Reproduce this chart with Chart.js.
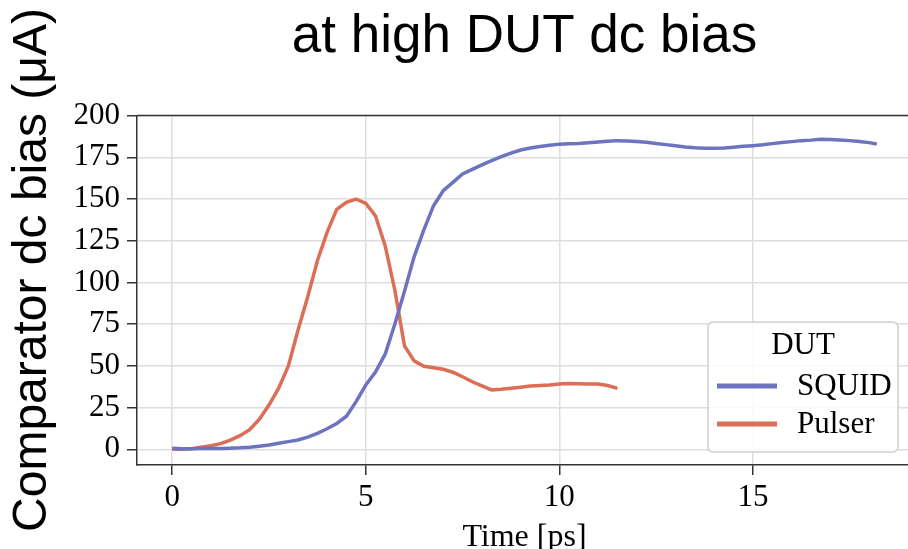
<!DOCTYPE html>
<html>
<head>
<meta charset="utf-8">
<script src="https://cdn.jsdelivr.net/npm/chart.js@4/dist/chart.umd.min.js"></script>
<style>
  html, body { margin: 0; padding: 0; background: #fff; }
  #wrap { width: 908px; height: 549px; overflow: hidden; position: relative; }
  #testchart { display: block; }
</style>
</head>
<body>
<div id="wrap"><canvas id="testchart" width="912" height="560" style="width:912px;height:560px"></canvas></div>
<script>
// values, time in ps, bias in uA
const squidTime = [0, 0.25, 0.5, 0.75, 1, 1.25, 1.5, 1.75, 2, 2.25, 2.5, 2.75, 3, 3.25, 3.5, 3.75,
    4, 4.25, 4.5, 4.75, 5, 5.25, 5.5, 5.75, 6, 6.25, 6.5, 6.75, 7, 7.25, 7.5, 7.75,
    8, 8.25, 8.5, 8.75, 9, 9.25, 9.5, 9.75, 10, 10.25, 10.5, 10.75, 11, 11.25, 11.5, 11.75,
    12, 12.25, 12.5, 12.75, 13, 13.25, 13.5, 13.75, 14, 14.25, 14.5, 14.75, 15, 15.25, 15.5, 15.75,
    16, 16.25, 16.5, 16.75, 17, 17.25, 17.5, 17.75, 18, 18.2];
const squid = [0.6, 0.4, 0.3, 0.5, 0.6, 0.5, 0.7, 0.9, 1.3, 1.9, 2.6, 3.6, 4.6, 5.6, 7.3, 9.6,
    12.3, 15.5, 19.8, 28.6, 38.5, 46.3, 57, 75, 94.7, 115.5, 131.5, 146, 155, 160, 165, 167.8,
    170.5, 173, 175.4, 177.5, 179.4, 180.6, 181.5, 182.2, 182.9, 183.1, 183.3, 183.7, 184.2, 184.6, 185, 184.8,
    184.5, 184, 183.3, 182.6, 181.9, 181.2, 180.7, 180.5, 180.4, 180.6, 181.1, 181.6, 182, 182.5, 183.2, 183.9,
    184.4, 185, 185.3, 185.8, 185.7, 185.4, 185, 184.5, 183.8, 183];

const pulserTime = [0, 0.25, 0.5, 0.75, 1, 1.25, 1.5, 1.75, 2, 2.25, 2.5, 2.75, 3, 3.25, 3.5, 3.75,
    4, 4.25, 4.5, 4.75, 5, 5.25, 5.5, 5.75, 6, 6.25, 6.5, 6.75, 7, 7.25, 7.5, 7.75,
    8, 8.25, 8.5, 8.75, 9, 9.25, 9.5, 9.75, 10, 10.25, 10.5, 10.75, 11, 11.25, 11.5];
const pulser = [0, 0.1, 0.4, 1.3, 2.2, 3.4, 5.5, 8.2, 11.8, 18, 26.5, 36.6, 50, 71.5, 91.5, 113,
    130, 143.8, 148, 150, 147.3, 140, 122, 95.5, 62, 53, 49.8, 48.9, 48, 46.2, 43.5, 40.5,
    38, 35.6, 36, 36.6, 37.2, 37.9, 38.3, 38.6, 39.2, 39.5, 39.3, 39.1, 39.1, 38.2, 36.5];

const xTicks = [0, 5, 10, 15];
const yTicks = [0, 25, 50, 75, 100, 125, 150, 175, 200];

const seriesNames = ['SQUID', 'Pulser'];
const seriesColors = ['#6c74bf', '#dc6e55'];

const serif = "'Liberation Serif', 'Times New Roman', serif";
const sans = "'Liberation Sans', Arial, sans-serif";

function toPoints(xs, ys) {
    return xs.map((x, i) => ({x: x, y: ys[i]}));
}

// y label, top spine and the boxed legend
const extras = {
    id: 'extras',
    beforeDatasetsDraw(chart) {
        const {ctx, chartArea} = chart;
        ctx.save();
        ctx.strokeStyle = '#333';
        ctx.lineWidth = 1.5;
        ctx.beginPath();
        ctx.moveTo(chartArea.left, chartArea.top);
        ctx.lineTo(chartArea.right, chartArea.top);
        ctx.stroke();
        ctx.restore();
    },
    afterDatasetsDraw(chart) {
        const {ctx, chartArea} = chart;
        const w = 190, h = 130;
        const x = chartArea.right - 14 - w, y = chartArea.bottom - 13 - h;
        ctx.save();
        ctx.fillStyle = 'rgba(255,255,255,0.85)';
        ctx.strokeStyle = '#d0d0d0';
        ctx.lineWidth = 1.5;
        ctx.beginPath();
        ctx.roundRect(x, y, w, h, 5);
        ctx.fill();
        ctx.stroke();
        ctx.fillStyle = '#000';
        ctx.font = '31px ' + serif;
        ctx.textBaseline = 'middle';
        ctx.textAlign = 'center';
        ctx.fillText('DUT', x + 95, y + 24);
        ctx.textAlign = 'left';
        seriesNames.forEach((name, i) => {
            const ly = y + 64 + i * 38;
            ctx.strokeStyle = seriesColors[i];
            ctx.lineWidth = 5;
            ctx.beginPath();
            ctx.moveTo(x + 9, ly);
            ctx.lineTo(x + 69, ly);
            ctx.stroke();
            ctx.fillStyle = '#000';
            ctx.fillText(name, x + 89, ly + 1);
        });
        ctx.restore();
    },
    afterDraw(chart) {
        const ctx = chart.ctx;
        ctx.save();
        ctx.translate(33, 270);
        ctx.rotate(-Math.PI / 2);
        ctx.font = '48px ' + sans;
        ctx.fillStyle = '#000';
        ctx.textAlign = 'center';
        ctx.textBaseline = 'middle';
        ctx.fillText('Comparator dc bias (\u03bcA)', 0, 0);
        ctx.restore();
    }
};

let select = document.getElementById('testchart');
let currentchart = new Chart(select, {
    type: 'line',
    data: {
        datasets: [{
            label: seriesNames[0],
            data: toPoints(squidTime, squid),
            borderColor: seriesColors[0],
            borderWidth: 3.5,
            pointRadius: 0,
            fill: false
        },
        {
            label: seriesNames[1],
            data: toPoints(pulserTime, pulser),
            borderColor: seriesColors[1],
            borderWidth: 3.5,
            pointRadius: 0,
            fill: false
        }]
    },
    options: {
        responsive: false,
        devicePixelRatio: 1,
        animation: false,
        events: [],
        layout: { padding: 0 },
        plugins: {
            legend: { display: false },
            tooltip: { enabled: false },
            title: {
                display: true,
                fullSize: false,
                text: 'at high DUT dc bias',
                color: '#000',
                font: { family: sans, size: 53, weight: 'normal', lineHeight: 1.2 },
                padding: { top: 6, bottom: 46 }
            }
        },
        scales: {
            x: {
                type: 'linear',
                min: -0.91,
                max: 19.11,
                afterFit(scale) { scale.height = 95; },
                afterBuildTicks(scale) { scale.ticks = xTicks.map(v => ({value: v})); },
                ticks: { color: '#000', padding: 4, font: { family: serif, size: 31 } },
                grid: { color: '#dedede', lineWidth: 1.5, tickColor: '#333', tickLength: 10 },
                border: { color: '#333', width: 1.5 },
                title: {
                    display: true,
                    text: 'Time [ps]',
                    color: '#000',
                    font: { family: serif, size: 32 },
                    padding: { top: 2, bottom: 3 }
                }
            },
            y: {
                min: -9.4,
                max: 200,
                afterFit(scale) { scale.width = 137; },
                afterBuildTicks(scale) { scale.ticks = yTicks.map(v => ({value: v})); },
                ticks: { color: '#000', padding: 7, font: { family: serif, size: 31 } },
                grid: { color: '#dedede', lineWidth: 1.5, tickColor: '#333', tickLength: 10 },
                border: { color: '#333', width: 1.5 }
            }
        }
    },
    plugins: [extras]
});
</script>
</body>
</html>
